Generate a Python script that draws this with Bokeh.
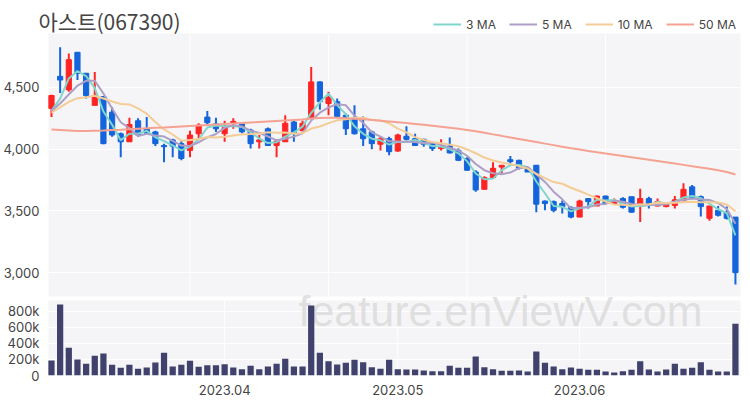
import pandas as pd
from bokeh.plotting import figure
from bokeh.models import Range1d, FixedTicker, Legend, LegendItem, Label, ColumnDataSource
from bokeh.embed import file_html
from bokeh.resources import INLINE

# ---------------- data ----------------
title_text = "아스트(067390)"
month_ticks = [20, 40, 61]
month_labels = ["2023.04", "2023.05", "2023.06"]
price_ticks = [3000, 3500, 4000, 4500]
volume_ticks = [0, 200000, 400000, 600000, 800000]
volume_labels = ["0", "200k", "400k", "600k", "800k"]
main_grid_x = [16, 32, 48, 64]
ma_periods = [3, 5, 10]
ma_names = ["3 MA", "5 MA", "10 MA", "50 MA"]
watermark_text = "feature.enViewV.com"

# closes of the sessions just before the window (estimated from where the MA lines start)
prior_close = [4130, 4270, 4320, 4350, 4330, 4260, 4360, 4260, 4235]

open_ = [4330, 4590, 4480, 4785, 4615, 4355, 4425, 4300, 4125, 4060,
         4230, 4165, 4140, 4030, 4075, 4045, 3990, 4125, 4260, 4205,
         4125, 4210, 4205, 4155, 4060, 4165, 4030, 4060, 4220, 4150,
         4250, 4545, 4370, 4385, 4275, 4250, 4165, 4140, 4040, 4085,
         3985, 4105, 4085, 4080, 4045, 4005, 4025, 3990, 3925, 3815,
         3675, 3770, 3855, 3915, 3910, 3845, 3870, 3580, 3575, 3560,
         3530, 3450, 3600, 3540, 3620, 3560, 3600, 3615, 3540, 3600,
         3540, 3535, 3545, 3585, 3695, 3615, 3440, 3505, 3490, 3450]
high = [4440, 4825, 4775, 4785, 4615, 4625, 4430, 4340, 4135, 4255,
        4250, 4260, 4150, 4045, 4085, 4075, 4150, 4210, 4310, 4255,
        4230, 4250, 4220, 4165, 4115, 4175, 4080, 4275, 4230, 4230,
        4665, 4550, 4465, 4410, 4290, 4355, 4265, 4150, 4100, 4100,
        4125, 4185, 4125, 4085, 4050, 4080, 4095, 4005, 3935, 3830,
        3780, 3895, 3870, 3945, 3915, 3855, 3870, 3585, 3585, 3585,
        3535, 3590, 3600, 3625, 3625, 3600, 3610, 3615, 3680, 3615,
        3600, 3565, 3620, 3725, 3710, 3625, 3540, 3540, 3535, 3450]
low = [4260, 4455, 4465, 4560, 4410, 4355, 4040, 4100, 3935, 4060,
       4100, 4115, 4025, 3895, 3935, 3910, 3935, 4075, 4195, 4140,
       4060, 4165, 4130, 4005, 4005, 4025, 3935, 4060, 4060, 4145,
       4240, 4320, 4275, 4260, 4115, 4120, 4025, 4000, 3990, 3950,
       3980, 4070, 4025, 4020, 3985, 3990, 3965, 3905, 3825, 3655,
       3675, 3765, 3805, 3885, 3835, 3815, 3490, 3505, 3490, 3480,
       3440, 3450, 3520, 3540, 3555, 3555, 3520, 3485, 3410, 3520,
       3535, 3530, 3520, 3575, 3595, 3455, 3420, 3455, 3430, 2905]
close = [4435, 4560, 4725, 4615, 4435, 4435, 4045, 4115, 4060, 4200,
         4115, 4130, 4045, 4020, 4025, 3925, 4115, 4195, 4215, 4165,
         4175, 4225, 4140, 4045, 4075, 4030, 4065, 4210, 4130, 4210,
         4545, 4385, 4420, 4265, 4165, 4125, 4085, 4045, 4085, 3980,
         4115, 4080, 4030, 4040, 4005, 4020, 3970, 3910, 3830, 3670,
         3770, 3845, 3870, 3900, 3845, 3815, 3555, 3560, 3505, 3535,
         3450, 3580, 3575, 3620, 3560, 3585, 3530, 3490, 3600, 3545,
         3575, 3560, 3590, 3675, 3600, 3535, 3540, 3465, 3440, 3000]
volume = [186000, 882000, 344000, 199000, 145000, 245000, 273000, 133000, 95000, 133000,
          83000, 99000, 161000, 282000, 112000, 133000, 182000, 108000, 128000, 128000,
          141000, 99000, 79000, 120000, 79000, 112000, 145000, 207000, 112000, 112000,
          870000, 282000, 178000, 137000, 157000, 195000, 166000, 104000, 83000, 195000,
          79000, 75000, 75000, 62000, 54000, 54000, 120000, 95000, 95000, 236000,
          104000, 79000, 58000, 58000, 62000, 50000, 298000, 157000, 112000, 79000,
          99000, 83000, 70000, 70000, 50000, 37000, 54000, 70000, 178000, 75000,
          50000, 75000, 145000, 83000, 95000, 166000, 70000, 50000, 50000, 642000]
ma50 = [4160, 4156, 4152, 4148, 4148, 4150, 4152, 4155, 4158, 4162,
        4166, 4170, 4173, 4176, 4180, 4184, 4188, 4192, 4196, 4200,
        4204, 4208, 4212, 4216, 4220, 4224, 4228, 4232, 4236, 4240,
        4248, 4252, 4255, 4254, 4250, 4246, 4242, 4236, 4230, 4224,
        4218, 4212, 4205, 4198, 4190, 4182, 4174, 4165, 4155, 4145,
        4133, 4120, 4108, 4095, 4082, 4070, 4058, 4045, 4033, 4020,
        4008, 3997, 3986, 3975, 3965, 3955, 3945, 3934, 3924, 3914,
        3904, 3894, 3884, 3873, 3862, 3852, 3842, 3830, 3815, 3795]

# ---------------- layout / style constants (pixels) ----------------
W, H = 748, 398
FRAME_L, FRAME_R, FRAME_B = 37, 740, 375      # frame edges (page px); frame top = 0
PANEL_L = 47                                  # left edge of the grey panels
PRICE_TOP, PRICE_BOT = 33, 296                # price panel
VOL_TOP_PX = 300                              # volume panel top (bottom = FRAME_B)
X0_PX, PX_PER_BAR = 50, 8.67                  # centre of first bar, bar pitch
PRICE_AT_TOP, PRICE_AT_BOT = 4937, 2807       # price at PRICE_TOP / PRICE_BOT
VOL_AT_PANEL_TOP = 932000
WM_X, WM_BASE = 499, 310                      # watermark centre x / baseline y

UP, DOWN = "#ff2424", "#1464dc"
VOL_COLOR = "#41416e"
PANEL_BG = "#f5f5f7"
MA_COLORS = ["#7fd6cc", "#ad9fc6", "#f3cc96", "#f5a292"]
TXT = "#444444"
FONT = "Inter"

FRAME_H = FRAME_B
ppx = (PRICE_AT_TOP - PRICE_AT_BOT) / (PRICE_BOT - PRICE_TOP)
y_end = PRICE_AT_TOP + PRICE_TOP * ppx
y_start = PRICE_AT_BOT - (FRAME_B - PRICE_BOT) * ppx
vpx = VOL_AT_PANEL_TOP / (FRAME_B - VOL_TOP_PX)
vol_end = FRAME_H * vpx
x_lo = (FRAME_L - X0_PX) / PX_PER_BAR
x_hi = (FRAME_R - X0_PX) / PX_PER_BAR
panel_left = (PANEL_L - X0_PX) / PX_PER_BAR

p = figure(width=W, height=H, title=None, output_backend="svg", toolbar_location=None,
           x_range=Range1d(x_lo, x_hi), y_range=Range1d(y_start, y_end),
           min_border_left=FRAME_L, min_border_right=W - FRAME_R,
           min_border_top=0, min_border_bottom=H - FRAME_B,
           background_fill_color="white", border_fill_color="white")
p.outline_line_color = None
p.extra_y_ranges = {"vol": Range1d(0, vol_end)}

# panel backgrounds
p.quad(left=panel_left, right=x_hi + 5, bottom=PRICE_AT_BOT, top=PRICE_AT_TOP,
       fill_color=PANEL_BG, line_color=None, level="image")
p.quad(left=panel_left, right=x_hi + 5, bottom=0, top=VOL_AT_PANEL_TOP, y_range_name="vol",
       fill_color=PANEL_BG, line_color=None, level="image")
# vertical grid lines
p.segment(x0=main_grid_x, y0=[PRICE_AT_BOT] * len(main_grid_x), x1=main_grid_x,
          y1=[PRICE_AT_TOP] * len(main_grid_x), line_color="white", line_width=1, level="image")
p.segment(x0=month_ticks, y0=[0] * len(month_ticks), x1=month_ticks,
          y1=[VOL_AT_PANEL_TOP] * len(month_ticks), y_range_name="vol",
          line_color="white", line_width=1, level="image")

# y axis: price ticks + volume ticks expressed on the price scale
def vol_to_price(v):
    return y_start + v / vol_end * (y_end - y_start)

vol_pos = [vol_to_price(v) for v in volume_ticks]
all_ticks = price_ticks + vol_pos
overrides = {float(t): "{:,}".format(t) for t in price_ticks}
for pos, lab in zip(vol_pos, volume_labels):
    overrides[float(pos)] = lab
yt = FixedTicker(ticks=all_ticks)
p.yaxis.ticker = yt
p.yaxis.major_label_overrides = overrides
p.ygrid.ticker = yt
p.ygrid.grid_line_color = "white"
p.ygrid.grid_line_width = 1
p.xgrid.visible = False

p.xaxis.ticker = FixedTicker(ticks=month_ticks)
p.xaxis.major_label_overrides = {t: l for t, l in zip(month_ticks, month_labels)}

for ax in (p.xaxis[0], p.yaxis[0]):
    ax.axis_line_color = None
    ax.major_tick_line_color = None
    ax.minor_tick_line_color = None
    ax.major_label_text_font = FONT
    ax.major_label_text_font_size = "13px"
    ax.major_label_text_color = TXT
p.yaxis.major_label_standoff = -(PANEL_L - FRAME_L) + 3
p.xaxis.major_label_standoff = 3

# watermark (behind data)
p.add_layout(Label(x=WM_X - FRAME_L, y=FRAME_B - WM_BASE, x_units="screen", y_units="screen",
                   text=watermark_text, text_font="Liberation Sans", text_font_size="43px",
                   text_color="#d9d9d9", text_alpha=0.8, text_align="center",
                   text_baseline="alphabetic", level="underlay"))

# candles + volume
n = len(close)
xs = list(range(n))
colors = [UP if c >= o else DOWN for o, c in zip(open_, close)]
src = ColumnDataSource(dict(x=xs, high=high, low=low, volume=volume, color=colors,
                            top=[max(o, c) for o, c in zip(open_, close)],
                            bottom=[min(o, c) for o, c in zip(open_, close)]))
p.vbar(x="x", width=0.72, top="volume", bottom=0, y_range_name="vol", source=src,
       fill_color=VOL_COLOR, line_color=None)
p.segment(x0="x", y0="high", x1="x", y1="low", source=src, line_color="color", line_width=2)
p.vbar(x="x", width=0.6, top="top", bottom="bottom", source=src,
       fill_color="color", line_color="color", line_width=1)

# moving averages
closes_all = pd.Series(prior_close + close, dtype=float)
ma_renderers = []
for period, col in zip(ma_periods, MA_COLORS[:3]):
    ma = closes_all.rolling(period).mean().iloc[len(prior_close):].to_numpy()
    ma_renderers.append(p.line(xs, ma, line_color=col, line_width=2))
ma_renderers.append(p.line(xs, ma50, line_color=MA_COLORS[3], line_width=2))

legend = Legend(items=[LegendItem(label=nm, renderers=[r]) for nm, r in zip(ma_names, ma_renderers)],
                orientation="horizontal", location=(432 - FRAME_L, FRAME_B - 24 - 8),
                glyph_width=28, glyph_height=16, label_height=16, label_standoff=5, spacing=13,
                padding=0, margin=0, background_fill_alpha=0, border_line_color=None,
                label_text_font=FONT, label_text_font_size="12px", label_text_color=TXT)
p.add_layout(legend)

# title
p.add_layout(Label(x=0, y=FRAME_B - 20, x_units="screen", y_units="screen", text=title_text,
                   text_font="Noto Sans CJK KR", text_font_size="21px", text_color=TXT,
                   text_align="left", text_baseline="middle"))

open("out.html", "w").write(file_html(p, INLINE))
